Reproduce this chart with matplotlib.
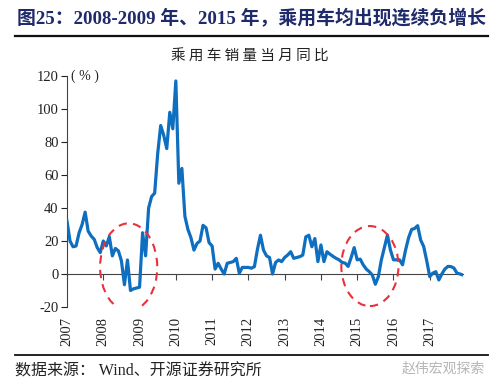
import matplotlib
matplotlib.use("Agg")
import matplotlib.pyplot as plt
from matplotlib.patches import Ellipse
from matplotlib.lines import Line2D

plt.rcParams['font.family'] = ['Liberation Serif', 'Noto Sans CJK SC', 'DejaVu Sans']
plt.rcParams['axes.unicode_minus'] = False

years = ['2007', '2008', '2009', '2010', '2011', '2012', '2013', '2014', '2015', '2016', '2017']

# monthly YoY (%), Jan 2007 - Dec 2017
yoy_2007 = [32, 20, 16.5, 17, 25, 30, 37.5, 26, 23, 21, 16, 13]
yoy_2008 = [20, 17, 22.6, 11, 15.5, 14, 8, -6.5, 8.5, -10, -9, -8.5]
yoy_2009 = [-8, 25, 11, 40, 47, 49, 73, 90, 84, 76, 98, 88]
yoy_2010 = [117, 55, 64, 35, 27, 22, 14.5, 18.5, 20, 29.5, 28, 19]
yoy_2011 = [17, 3, 6.5, 3, 0, 6.5, 7, 7.5, 9.5, 0.5, 4, 4]
yoy_2012 = [4, 3.5, 4.5, 15, 23.5, 14.5, 11, 10, 0, 7, 8.5, 7.5]
yoy_2013 = [10, 11.5, 13.5, 9.5, 10, 10.5, 11.5, 22.5, 23.5, 16.5, 21.5, 7.5]
yoy_2014 = [17.6, 7.5, 13.5, 12, 10.7, 9.5, 8.6, 7, 6.6, 4.6, 10, 16]
yoy_2015 = [8.6, 9, 5.5, 3, 1.4, -0.6, -6.2, -1.6, 8.6, 16, 23.6, 14.5]
yoy_2016 = [8.6, 8.6, 8.6, 5.6, 14.5, 22, 27, 27.6, 29.3, 20.6, 16.6, 8]
yoy_2017 = [-1.6, 0.5, 1.4, -3.6, 0, 3, 4.6, 4.5, 3.6, 0.5, 0, -0.6]

values = (yoy_2007 + yoy_2008 + yoy_2009 + yoy_2010 + yoy_2011 + yoy_2012 +
          yoy_2013 + yoy_2014 + yoy_2015 + yoy_2016 + yoy_2017)
months = list(range(len(values)))
tick_pos = [12 * i for i in range(len(years))]

fig = plt.figure(figsize=(5.0, 3.89), dpi=100)
ax = fig.add_axes([0.134, 0.2108, 0.792, 0.5938])

ax.plot(months, values, color='#0E6EC0', lw=2.3, solid_joinstyle='round', zorder=3)

ax.set_xlim(0, len(values) - 1)
ax.set_ylim(-20, 120)
ax.set_yticks(range(-20, 121, 20))
ax.tick_params(axis='y', direction='out', length=4, width=0.8, labelsize=10.5,
               pad=2, colors='#222222')

for s in ['top', 'right']:
    ax.spines[s].set_visible(False)
ax.spines['left'].set_color('#444444')
ax.spines['left'].set_linewidth(0.8)
ax.spines['bottom'].set_position(('data', 0))
ax.spines['bottom'].set_color('#444444')
ax.spines['bottom'].set_linewidth(0.8)
ax.set_xticks(tick_pos)
ax.set_xticklabels([])
ax.tick_params(axis='x', direction='out', length=4, width=0.8, colors='#444444')

sec = ax.secondary_xaxis('bottom')
sec.set_xticks(tick_pos)
sec.set_xticklabels(years, rotation=90, fontsize=10.5, color='#222222')
sec.tick_params(length=0, pad=7)
sec.spines['bottom'].set_visible(False)

ax.text(1.2, 120, '( % )', fontsize=10, color='#222222', va='center', ha='left')

# highlight ellipses
ax.add_patch(Ellipse((20.4, 4.2), 18.9, 53, fill=False, ec='#E8313A', lw=1.5,
                     ls=(0, (4, 3)), zorder=4))
ax.add_patch(Ellipse((100.2, 4.8), 18.9, 48.5, fill=False, ec='#E8313A', lw=1.5,
                     ls=(0, (4, 3)), zorder=4))

# titles and frame lines
fig.text(0.034, 0.953, '图25：2008-2009 年、2015 年，乘用车均出现连续负增长',
         fontsize=13.6, fontweight='bold', color='#1F2A6B', ha='left', va='center')
fig.add_artist(Line2D([0.03, 0.976], [0.907, 0.907], color='#111111', lw=1.6))
fig.text(0.5, 0.853, '乘 用 车 销 量 当 月 同 比', fontsize=10.5, color='#222222',
         ha='center', va='center', family=['Noto Sans CJK SC'])
fig.add_artist(Line2D([0.03, 0.976], [0.087, 0.087], color='#111111', lw=1.3))
fig.text(0.03, 0.046, '数据来源： Wind、开源证券研究所', fontsize=11.5, color='#222222',
         ha='left', va='center')
fig.text(0.97, 0.052, '赵伟宏观探索', fontsize=10, color='#B5B5B5',
         ha='right', va='center', family=['Noto Sans CJK SC'])

fig.savefig('out.png', dpi=100)
